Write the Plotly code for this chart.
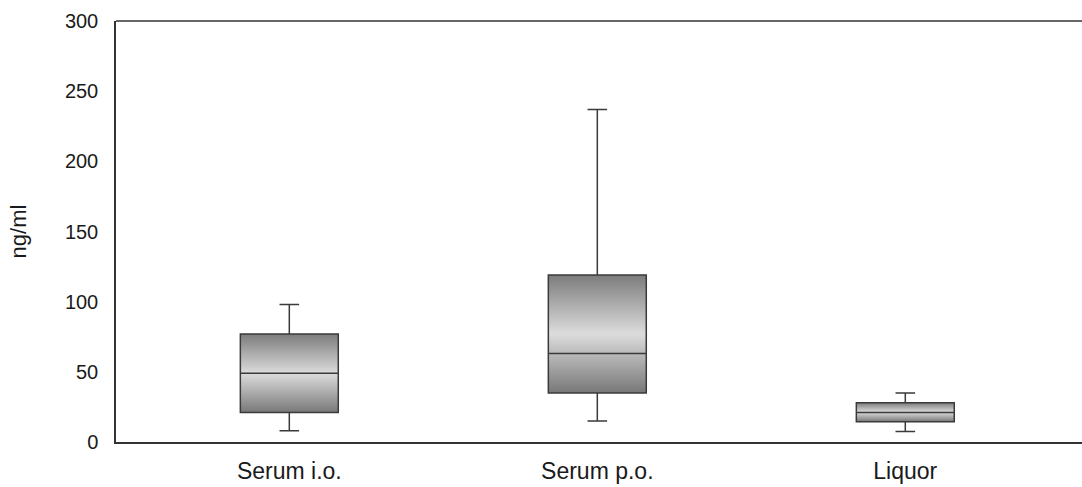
import plotly.graph_objects as go

categories = ["Serum i.o.", "Serum p.o.", "Liquor"]
lower_whisker = [8, 15, 7.5]
q1_values = [21, 35, 14.5]
median_values = [49, 63, 21]
q3_values = [77, 119, 28]
upper_whisker = [98, 237, 35]
y_ticks = [0, 50, 100, 150, 200, 250, 300]

BOX_W = 0.318
FONT = "Liberation Sans, Arial, sans-serif"
X_RANGE = [-0.5627, 2.5737]
Y_RANGE = [0, 300]
positions = list(range(len(categories)))

fig = go.Figure()

# gradient fill of boxes (bottom layer, on the main axes)
for i, q1, q3 in zip(positions, q1_values, q3_values):
    fig.add_trace(go.Scatter(
        x=[i - BOX_W / 2, i + BOX_W / 2, i + BOX_W / 2, i - BOX_W / 2, i - BOX_W / 2],
        y=[q1, q1, q3, q3, q1],
        mode="lines", line=dict(width=0), fill="toself",
        fillgradient=dict(type="vertical",
                          colorscale=[[0, "#787878"], [0.5, "#dcdcdc"], [1, "#7c7c7c"]]),
        hoverinfo="skip", showlegend=False,
    ))

# box outlines, medians and whiskers on an overlaid axis pair so they sit on top
fig.add_trace(go.Box(
    x=positions,
    q1=q1_values, median=median_values, q3=q3_values,
    lowerfence=lower_whisker, upperfence=upper_whisker,
    width=BOX_W, whiskerwidth=0.2,
    fillcolor="rgba(0,0,0,0)",
    line=dict(color="#3a3a3a", width=1.5),
    showlegend=False,
    xaxis="x2", yaxis="y2",
))

fig.update_layout(
    width=1082, height=487,
    margin=dict(l=116, r=0, t=21, b=45),
    paper_bgcolor="white", plot_bgcolor="white",
    font=dict(family=FONT, color="#1a1a1a"),
    xaxis=dict(
        range=X_RANGE, tickvals=positions, ticktext=categories,
        showline=True, linecolor="#333", linewidth=1.5, ticks="",
        showgrid=False, zeroline=False, tickfont=dict(size=23),
        ticklabelstandoff=8,
    ),
    yaxis=dict(
        range=Y_RANGE, tickvals=y_ticks,
        showline=True, linecolor="#333", linewidth=1.5, ticks="",
        showgrid=False, zeroline=False, tickfont=dict(size=20),
        ticklabelstandoff=12,
        title=dict(text="ng/ml", font=dict(size=22), standoff=32),
    ),
    xaxis2=dict(range=X_RANGE, overlaying="x", visible=False),
    yaxis2=dict(range=Y_RANGE, overlaying="y", visible=False),
    shapes=[dict(type="line", xref="paper", yref="paper", x0=0, x1=1, y0=1, y1=1,
                 line=dict(color="#333", width=1.5))],
)

fig.write_html("out.html", config={"displayModeBar": False},
               post_script="document.body.style.margin='0';")
